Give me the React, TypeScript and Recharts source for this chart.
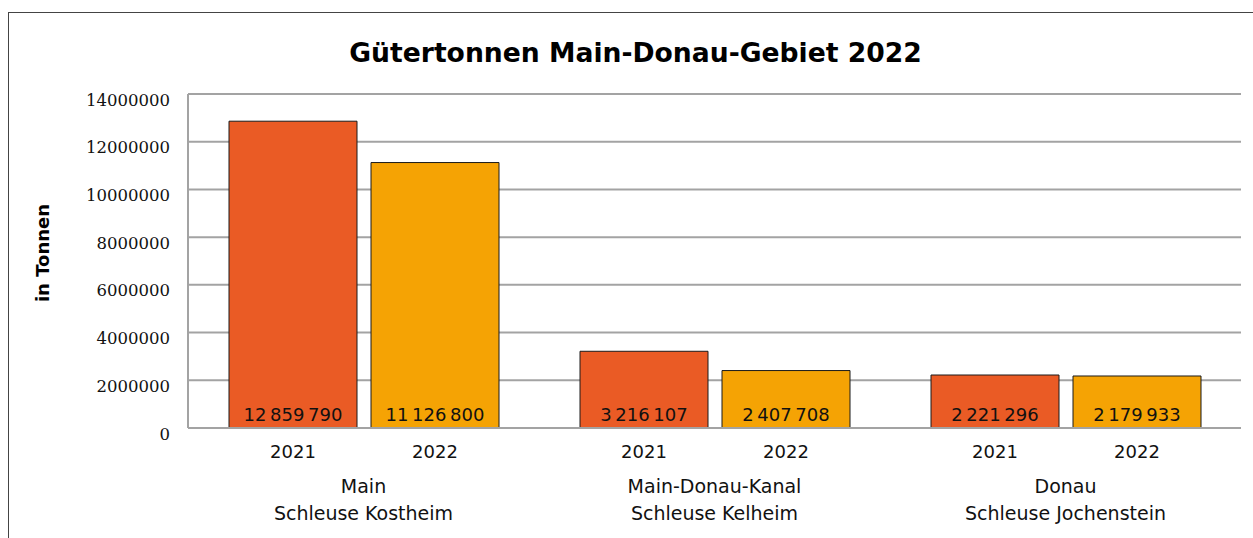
import { Bar, BarChart, CartesianGrid, LabelList, XAxis, YAxis } from 'recharts';

const GROUPS = ['Main|Schleuse Kostheim', 'Main-Donau-Kanal|Schleuse Kelheim', 'Donau|Schleuse Jochenstein'];
const VALUES_2021 = [12859790, 3216107, 2221296];
const VALUES_2022 = [11126800, 2407708, 2179933];
const Y_TICKS = [0, 2000000, 4000000, 6000000, 8000000, 10000000, 12000000, 14000000];

const data = GROUPS.map((g, i) => ({ group: g, y2021: VALUES_2021[i], y2022: VALUES_2022[i] }));

const SANS = '"DejaVu Sans", Verdana, sans-serif';
const SERIF = '"DejaVu Serif", serif';
const GRID = '#a3a3a3';

const fmt = (v: number) => String(v).replace(/\B(?=(\d{3})+(?!\d))/g, '\u2009');

const GroupTick = ({ x, y, payload }: any) => {
  const [a, b] = String(payload.value).split('|');
  return (
    <g>
      <text x={x} y={y + 50} textAnchor="middle" dominantBaseline="central" fontFamily={SANS} fontSize={19} fill="#111">
        {a}
      </text>
      <text x={x} y={y + 77} textAnchor="middle" dominantBaseline="central" fontFamily={SANS} fontSize={19} fill="#111">
        {b}
      </text>
    </g>
  );
};

const ValueTick = ({ x, y, payload }: any) => (
  <text x={x} y={y + 6} textAnchor="end" dominantBaseline="central" fontFamily={SERIF} fontSize={16.5} fill="#111">
    {payload.value}
  </text>
);

const makeLabels = (year: string) => (p: any) => {
  const cx = p.x + p.width / 2;
  const base = p.y + p.height;
  return (
    <g>
      <text x={cx} y={base - 14} textAnchor="middle" dominantBaseline="central" fontFamily={SANS} fontSize={18} fill="#111">
        {fmt(p.value)}
      </text>
      <text x={cx} y={base + 23} textAnchor="middle" dominantBaseline="central" fontFamily={SANS} fontSize={18} fill="#111">
        {year}
      </text>
    </g>
  );
};

export default function App() {
  return (
    <div style={{ position: 'fixed', left: 0, top: 0, width: 1253, height: 538, overflow: 'hidden', background: '#fff' }}>
      <div style={{ position: 'absolute', left: 8, top: 12, width: 1300, height: 600, border: '1px solid #444' }} />
      <div
        style={{
          position: 'absolute', left: 18, top: 37, width: 1235, textAlign: 'center',
          fontFamily: SANS, fontWeight: 'bold', fontSize: 26.6, color: '#000',
        }}
      >
        Gütertonnen Main-Donau-Gebiet 2022
      </div>
      <div style={{ position: 'absolute', left: 0, top: 0 }}>
        <BarChart width={1253} height={538} data={data} margin={{ top: 94, right: 12, bottom: 0, left: 0 }} barCategoryGap={41} barGap={14}>
          <CartesianGrid vertical={false} stroke={GRID} strokeWidth={2} />
          <XAxis dataKey="group" height={110} axisLine={{ stroke: GRID, strokeWidth: 2 }} tickLine={false} tick={<GroupTick />} interval={0} />
          <YAxis
            width={188}
            domain={[0, 14000000]}
            ticks={Y_TICKS}
            axisLine={{ stroke: GRID, strokeWidth: 2 }}
            tickLine={false}
            tickMargin={12}
            tick={<ValueTick />}
            label={{
              content: () => (
                <text x={42} y={253} transform="rotate(-90 42 253)" textAnchor="middle" dominantBaseline="central" fontFamily={SANS} fontWeight="bold" fontSize={18} fill="#000">
                  in Tonnen
                </text>
              ),
            }}
          />
          <Bar dataKey="y2021" fill="#EA5B25" stroke="#1a1a1a" strokeWidth={1} isAnimationActive={false}>
            <LabelList dataKey="y2021" content={makeLabels('2021')} />
          </Bar>
          <Bar dataKey="y2022" fill="#F5A304" stroke="#1a1a1a" strokeWidth={1} isAnimationActive={false}>
            <LabelList dataKey="y2022" content={makeLabels('2022')} />
          </Bar>
        </BarChart>
      </div>
    </div>
  );
}
